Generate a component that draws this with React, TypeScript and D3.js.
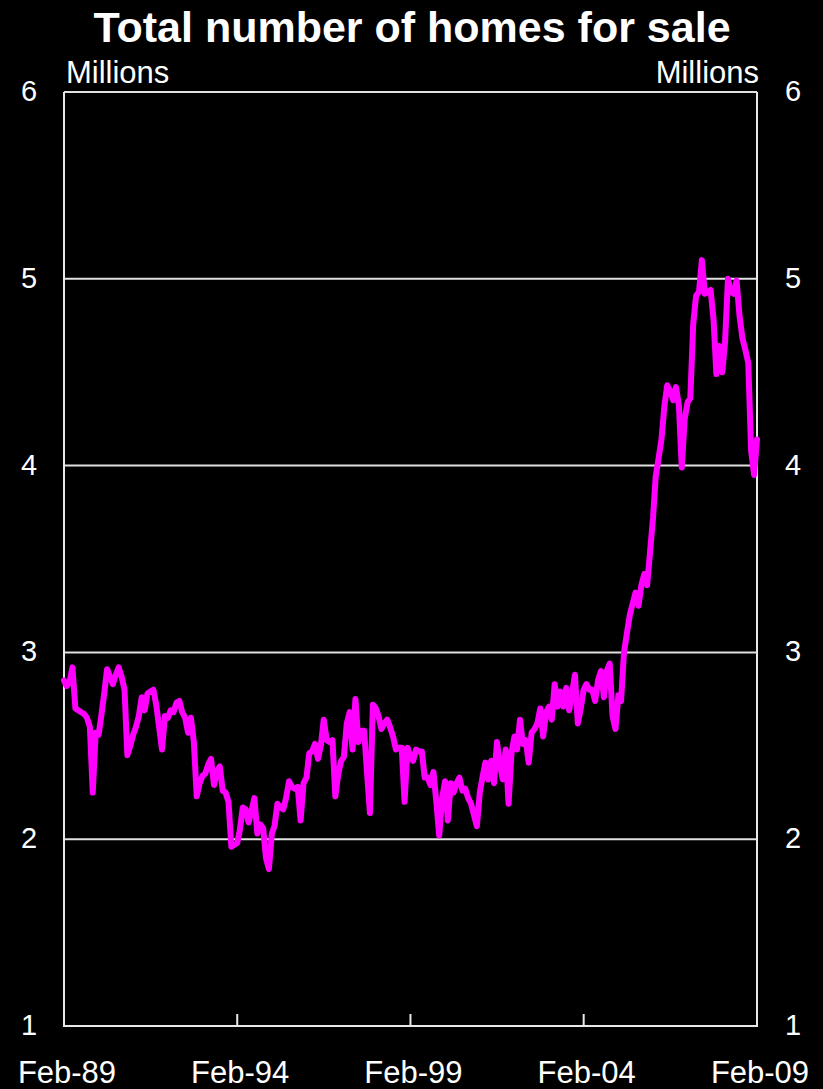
import { useEffect, useRef } from 'react'
import * as d3 from 'd3'

// monthly, Feb-89 .. Feb-09 (millions of homes)
const START = new Date(1989, 1, 1)
const HOMES: number[] = [
  2.85, 2.82, 2.84, 2.92, 2.70, 2.69, 2.68, 2.67, 2.65, 2.60,
  2.25, 2.57, 2.56, 2.66, 2.78, 2.91, 2.87, 2.83, 2.88, 2.92,
  2.87, 2.80, 2.45, 2.50, 2.56, 2.60, 2.66, 2.76, 2.69, 2.78,
  2.79, 2.80, 2.72, 2.60, 2.48, 2.66, 2.65, 2.69, 2.68, 2.73,
  2.74, 2.68, 2.65, 2.57, 2.65, 2.52, 2.23, 2.30, 2.34, 2.35,
  2.40, 2.43, 2.29, 2.36, 2.39, 2.26, 2.25, 2.20, 1.96, 1.97,
  1.98, 2.05, 2.17, 2.16, 2.09, 2.15, 2.22, 2.03, 2.08, 2.06,
  1.90, 1.84, 2.03, 2.07, 2.19, 2.17, 2.16, 2.22, 2.31, 2.28,
  2.27, 2.28, 2.10, 2.30, 2.33, 2.46, 2.47, 2.51, 2.43, 2.50,
  2.64, 2.53, 2.52, 2.53, 2.23, 2.35, 2.42, 2.44, 2.62, 2.68,
  2.48, 2.75, 2.52, 2.58, 2.58, 2.35, 2.14, 2.72, 2.70, 2.66,
  2.59, 2.62, 2.64, 2.60, 2.55, 2.48, 2.49, 2.49, 2.20, 2.49,
  2.44, 2.42, 2.48, 2.47, 2.47, 2.33, 2.33, 2.29, 2.36, 2.20,
  2.02, 2.22, 2.31, 2.10, 2.30, 2.25, 2.30, 2.33, 2.26, 2.27,
  2.22, 2.19, 2.13, 2.07, 2.25, 2.33, 2.41, 2.32, 2.42, 2.30,
  2.52, 2.40, 2.32, 2.48, 2.19, 2.46, 2.55, 2.48, 2.64, 2.51,
  2.53, 2.41, 2.57, 2.59, 2.62, 2.70, 2.55, 2.68, 2.71, 2.64,
  2.83, 2.71, 2.79, 2.71, 2.81, 2.69, 2.78, 2.88, 2.62, 2.70,
  2.80, 2.83, 2.80, 2.80, 2.74, 2.85, 2.90, 2.76, 2.90, 2.94,
  2.66, 2.59, 2.77, 2.74, 3.00, 3.10, 3.20, 3.26, 3.32, 3.25,
  3.36, 3.42, 3.36, 3.54, 3.72, 3.94, 4.04, 4.14, 4.32, 4.43,
  4.40, 4.35, 4.42, 4.32, 3.99, 4.25, 4.34, 4.36, 4.76, 4.91,
  4.93, 5.10, 4.92, 4.93, 4.94, 4.78, 4.49, 4.64, 4.50, 4.66,
  5.00, 4.93, 4.92, 4.99, 4.80, 4.68, 4.62, 4.55, 4.08, 3.95,
  4.14,
]
const Y_TICKS = [1, 2, 3, 4, 5, 6]
const X_TICKS = [new Date(1989, 1, 1), new Date(1994, 1, 1), new Date(1999, 1, 1), new Date(2004, 1, 1), new Date(2009, 1, 1)]
const TITLE = 'Total number of homes for sale'
const UNIT = 'Millions'

export default function App() {
  const svgRef = useRef<SVGSVGElement>(null)

  useEffect(() => {
    if (!svgRef.current) return
    const svg = d3.select(svgRef.current)
    svg.selectAll('*').remove()

    const W = 823, H = 1089
    const m = { top: 92, right: 66, bottom: 63, left: 64 }
    const font = 'Liberation Sans, Arial, sans-serif'

    svg.attr('width', W).attr('height', H)
    svg.append('rect').attr('width', W).attr('height', H).attr('fill', '#000')

    const data = HOMES.map((v, i) => ({ date: d3.timeMonth.offset(START, i), v }))

    const x = d3.scaleTime().domain([X_TICKS[0], X_TICKS[X_TICKS.length - 1]]).range([m.left, W - m.right])
    const y = d3.scaleLinear().domain([1, 6]).range([H - m.bottom, m.top])

    // grid
    svg.append('g')
      .selectAll('line')
      .data(Y_TICKS.filter(t => t > 1))
      .join('line')
      .attr('x1', x.range()[0]).attr('x2', x.range()[1])
      .attr('y1', d => y(d)).attr('y2', d => y(d))
      .attr('stroke', '#e0e0e0').attr('stroke-width', 2)

    // frame: left, right, bottom
    const [x0, x1] = x.range()
    const [yb, yt] = y.range()
    svg.append('path')
      .attr('d', `M${x0},${yt}V${yb}H${x1}V${yt}`)
      .attr('fill', 'none').attr('stroke', '#e8e8e8').attr('stroke-width', 2)

    // inward x ticks
    svg.append('g')
      .selectAll('line')
      .data(X_TICKS)
      .join('line')
      .attr('x1', d => x(d)).attr('x2', d => x(d))
      .attr('y1', yb).attr('y2', yb - 12)
      .attr('stroke', '#e8e8e8').attr('stroke-width', 2)

    // y labels both sides
    const yl = svg.append('g').attr('font-family', font).attr('font-size', 29).attr('fill', '#fff')
    Y_TICKS.forEach(t => {
      yl.append('text').attr('x', 29).attr('y', y(t) + 9)
        .attr('text-anchor', 'middle').text(t)
      yl.append('text').attr('x', 793).attr('y', y(t) + 9)
        .attr('text-anchor', 'middle').text(t)
    })

    // x labels
    svg.append('g').attr('font-family', font).attr('font-size', 31).attr('fill', '#fff')
      .selectAll('text')
      .data(X_TICKS)
      .join('text')
      .attr('x', d => x(d) + 3).attr('y', 1083)
      .attr('text-anchor', 'middle')
      .text(d => d3.timeFormat('%b-%y')(d))

    // units
    svg.append('text').attr('x', 66).attr('y', 83)
      .attr('font-family', font).attr('font-size', 31).attr('fill', '#fff').text(UNIT)
    svg.append('text').attr('x', 759).attr('y', 83).attr('text-anchor', 'end')
      .attr('font-family', font).attr('font-size', 31).attr('fill', '#fff').text(UNIT)

    // title
    svg.append('text').attr('x', 412).attr('y', 42).attr('text-anchor', 'middle')
      .attr('font-family', font).attr('font-size', 43).attr('font-weight', 'bold').attr('fill', '#fff')
      .text(TITLE)

    // series
    const line = d3.line<{ date: Date; v: number }>().x(d => x(d.date)).y(d => y(d.v))
    svg.append('path')
      .datum(data)
      .attr('d', line)
      .attr('fill', 'none').attr('stroke', '#ff00ff').attr('stroke-width', 6)
      .attr('stroke-linejoin', 'round').attr('stroke-linecap', 'round')
  }, [])

  return (
    <div style={{ position: 'absolute', left: 0, top: 0, width: 823, height: 1089, background: '#000' }}>
      <svg ref={svgRef} style={{ display: 'block' }} />
    </div>
  )
}
